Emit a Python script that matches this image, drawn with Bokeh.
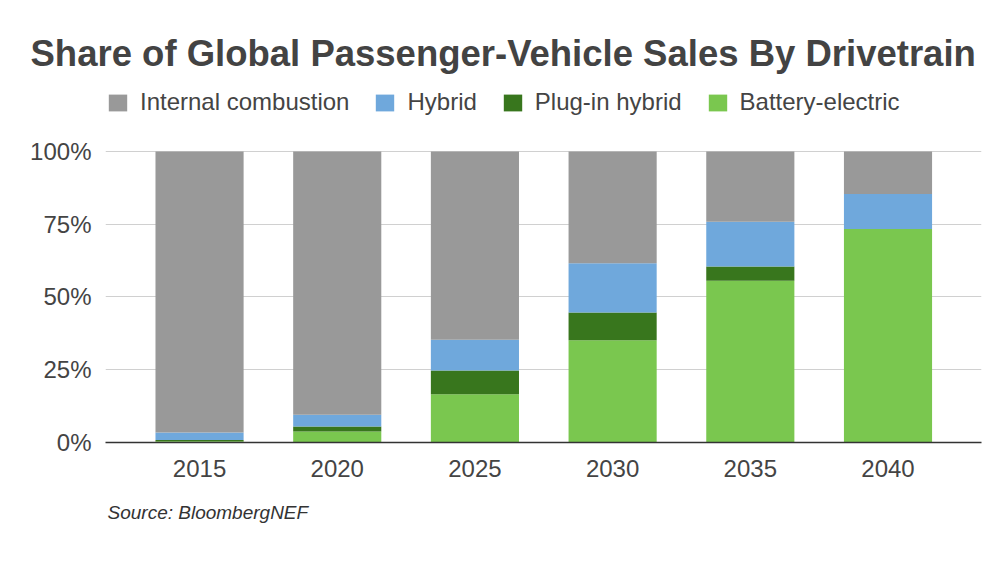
from bokeh.plotting import figure
from bokeh.models import (Range1d, FixedTicker, PrintfTickFormatter, Legend,
                          LegendItem, Title, ColumnDataSource)
from bokeh.embed import file_html
from bokeh.resources import INLINE

# ---- data (percent share) ----
years = ["2015", "2020", "2025", "2030", "2035", "2040"]
battery_electric = [0.4, 3.8, 16.6, 35.1, 55.6, 73.4]
plug_in_hybrid = [0.5, 1.7, 8.1, 9.6, 4.9, 0.0]
hybrid = [2.5, 4.0, 10.6, 16.9, 15.4, 12.0]
internal_combustion = [96.6, 90.5, 64.7, 38.4, 24.1, 14.6]
y_ticks = [0, 25, 50, 75, 100]

series_names = ["Battery-electric", "Plug-in hybrid", "Hybrid", "Internal combustion"]
series_keys = ["bev", "phev", "hev", "ice"]
colors = ["#7ac74f", "#38761d", "#6fa8dc", "#999999"]

FONT = "Liberation Sans"
TXT = "#444444"

src = ColumnDataSource(dict(
    x=list(range(len(years))),
    bev=battery_electric,
    phev=plug_in_hybrid,
    hev=hybrid,
    ice=internal_combustion,
))

# frame extends above 100% to hold the legend row
p = figure(width=1000, height=563,
           x_range=Range1d(-0.683, 5.679), y_range=Range1d(0, 122.68),
           output_backend="svg", toolbar_location=None,
           min_border_left=105, min_border_right=19,
           min_border_top=85, min_border_bottom=121,
           background_fill_color="white", border_fill_color="white")
p.outline_line_color = None

renderers = p.vbar_stack(series_keys, x="x", width=0.64, source=src,
                         color=colors, line_color=None)

# axes
p.xaxis.ticker = FixedTicker(ticks=list(range(len(years))))
p.xaxis.major_label_overrides = {i: y for i, y in enumerate(years)}
p.xaxis.major_tick_line_color = None
p.xaxis.minor_tick_line_color = None
p.xaxis.axis_line_color = "#333333"
p.xaxis.axis_line_width = 1.5
p.xaxis.major_label_standoff = 11
p.xaxis.major_label_text_font = FONT
p.xaxis.major_label_text_font_size = "24px"
p.xaxis.major_label_text_color = TXT

p.yaxis.ticker = FixedTicker(ticks=y_ticks)
p.yaxis.formatter = PrintfTickFormatter(format="%d%%")
p.yaxis.axis_line_color = None
p.yaxis.major_tick_line_color = None
p.yaxis.minor_tick_line_color = None
p.yaxis.major_label_standoff = 8
p.yaxis.major_label_text_font = FONT
p.yaxis.major_label_text_font_size = "24px"
p.yaxis.major_label_text_color = TXT

p.xgrid.grid_line_color = None
p.ygrid.ticker = FixedTicker(ticks=y_ticks)
p.ygrid.grid_line_color = "#d0d0d0"
p.ygrid.grid_line_width = 1

# legend (order as in reference), placed inside the frame above 100%
order = [3, 2, 1, 0]
items = [LegendItem(label=series_names[i], renderers=[renderers[i]]) for i in order]
legend = Legend(items=items, orientation="horizontal", location=(1, 326),
                glyph_width=23, glyph_height=21, label_standoff=11, spacing=24,
                padding=0, margin=0, label_text_font=FONT,
                label_text_font_size="24px", label_text_color=TXT,
                background_fill_alpha=0, border_line_alpha=0)
p.add_layout(legend)

title = Title(text="Share of Global Passenger-Vehicle Sales By Drivetrain",
              align="left", offset=-75, standoff=24,
              text_font=FONT, text_font_size="36.5px",
              text_font_style="bold", text_color="#434343")
p.add_layout(title, "above")

source = Title(text="Source: BloombergNEF", align="left", offset=2, standoff=41,
               text_font=FONT, text_font_size="19px", text_font_style="italic",
               text_color="#333333")
p.add_layout(source, "below")

open("out.html", "w").write(file_html(p, INLINE))
